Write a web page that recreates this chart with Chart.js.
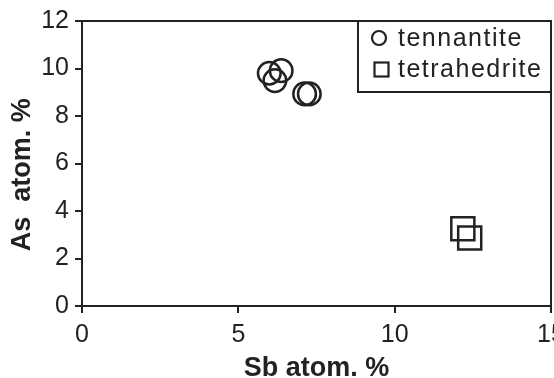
<!DOCTYPE html>
<html>
<head>
<meta charset="utf-8">
<script src="https://cdn.jsdelivr.net/npm/chart.js@4/dist/chart.umd.min.js"></script>
<style>
  html, body { margin: 0; padding: 0; background: #fff; }
  #wrap { width: 554px; height: 378px; }
</style>
</head>
<body>
<div id="wrap"><canvas id="chart" width="554" height="378"></canvas></div>
<script>
// values (atom. %)
const tennantiteSb = [5.99, 6.37, 6.17, 7.12, 7.27];
const tennantiteAs = [9.80, 9.91, 9.49, 8.93, 8.93];
const tetrahedriteSb = [12.18, 12.40];
const tetrahedriteAs = [3.25, 2.86];

const xTicks = [0, 5, 10, 15];
const yTicks = [0, 2, 4, 6, 8, 10, 12];

const legendNames = ['tennantite', 'tetrahedrite'];

const ink = '#222';
const fontFam = '"Liberation Sans", Arial, Helvetica, sans-serif';

function toPoints(xs, ys) {
    return xs.map((x, i) => ({ x: x, y: ys[i] }));
}

// frame round the plot + legend box in the top right corner
const framePlugin = {
    id: 'frame',
    afterDraw(chart) {
        const ctx = chart.ctx;
        const a = chart.chartArea;
        ctx.save();
        ctx.strokeStyle = ink;
        ctx.lineWidth = 2;
        ctx.strokeRect(a.left, a.top, a.right - a.left, a.bottom - a.top);

        // legend
        const boxL = a.right - 193, boxT = a.top, boxB = a.top + 71;
        ctx.strokeRect(boxL, boxT, a.right - boxL, boxB - boxT);

        ctx.lineWidth = 2.2;
        ctx.beginPath();
        ctx.arc(boxL + 21, boxT + 17, 7, 0, Math.PI * 2);
        ctx.stroke();
        ctx.strokeRect(boxL + 16.5, boxT + 41.5, 14, 14);

        ctx.fillStyle = ink;
        ctx.font = '25px ' + fontFam;
        ctx.textBaseline = 'middle';
        ctx.textAlign = 'left';
        if ('letterSpacing' in ctx) ctx.letterSpacing = '1.5px';
        ctx.fillText(legendNames[0], boxL + 40, boxT + 18);
        ctx.fillText(legendNames[1], boxL + 40, boxT + 49);
        ctx.restore();
    }
};

new Chart(document.getElementById('chart'), {
    type: 'scatter',
    data: {
        datasets: [{
            label: legendNames[0],
            data: toPoints(tennantiteSb, tennantiteAs),
            pointStyle: 'circle',
            pointRadius: 11.3,
            pointHoverRadius: 11.3,
            borderWidth: 2.5,
            borderColor: ink,
            backgroundColor: 'rgba(0,0,0,0)'
        }, {
            label: legendNames[1],
            data: toPoints(tetrahedriteSb, tetrahedriteAs),
            pointStyle: 'rect',
            pointRadius: 16.3,
            pointHoverRadius: 16.3,
            borderWidth: 2.5,
            borderColor: ink,
            backgroundColor: 'rgba(0,0,0,0)'
        }]
    },
    options: {
        responsive: false,
        animation: false,
        events: [],
        layout: { autoPadding: false, padding: { left: 0, right: 3, top: 21, bottom: 0 } },
        plugins: {
            legend: { display: false },
            tooltip: { enabled: false }
        },
        scales: {
            x: {
                type: 'linear',
                min: 0,
                max: 15,
                afterBuildTicks(scale) { scale.ticks = xTicks.map(v => ({ value: v })); },
                afterFit(scale) {
                    scale.height = 72;
                    scale.paddingLeft = 0;
                    scale.paddingRight = 0;
                },
                grid: { drawOnChartArea: false, tickLength: 7, color: ink, lineWidth: 2 },
                border: { display: true, color: ink, width: 2 },
                ticks: { color: ink, font: { family: fontFam, size: 25 }, padding: 7, maxRotation: 0 },
                title: {
                    display: true,
                    text: 'Sb atom. %',
                    color: ink,
                    font: { family: fontFam, size: 27, weight: 'bold' },
                    padding: { top: 0, bottom: -7 }
                }
            },
            y: {
                type: 'linear',
                min: 0,
                max: 12,
                afterBuildTicks(scale) { scale.ticks = yTicks.map(v => ({ value: v })); },
                afterFit(scale) {
                    scale.width = 82;
                    scale.paddingTop = 0;
                    scale.paddingBottom = 0;
                },
                grid: { drawOnChartArea: false, tickLength: 7, color: ink, lineWidth: 2 },
                border: { display: true, color: ink, width: 2 },
                ticks: { color: ink, font: { family: fontFam, size: 25 }, padding: 6 },
                title: {
                    display: true,
                    text: 'As  atom. %   ',
                    color: ink,
                    font: { family: fontFam, size: 27, weight: 'bold' },
                    padding: { top: 6, bottom: 0 }
                }
            }
        }
    },
    plugins: [framePlugin]
});
</script>
</body>
</html>
